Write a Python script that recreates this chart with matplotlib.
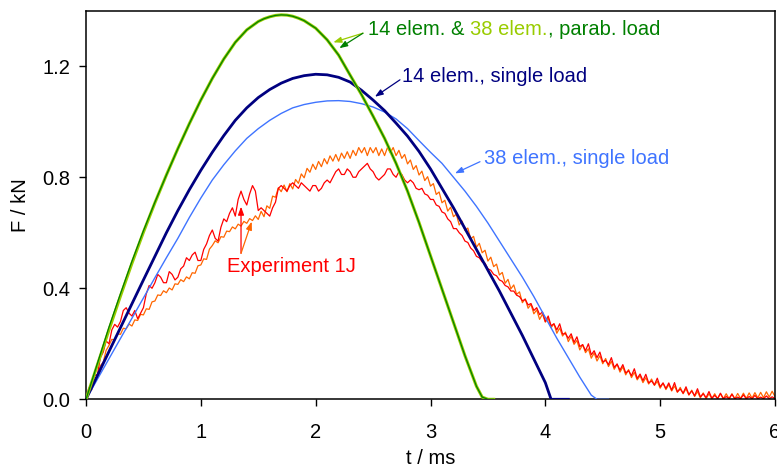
import numpy as np
import matplotlib
matplotlib.use("Agg")
import matplotlib.pyplot as plt

plt.rcParams['font.family'] = ['Liberation Sans', 'DejaVu Sans']

# ---------------- data ----------------
# simulations: parabolic load (14 and 38 elements)
t_par = [0.0, 0.1, 0.2, 0.3, 0.4, 0.5, 0.6, 0.7, 0.8, 0.9, 1.0, 1.1, 1.2, 1.3, 1.4,
         1.5, 1.55, 1.6, 1.65, 1.7, 1.75, 1.8, 1.85, 1.9, 2.0, 2.1, 2.2, 2.3, 2.4,
         2.5, 2.6, 2.7, 2.8, 2.9, 3.0, 3.1, 3.2, 3.3, 3.4, 3.45, 3.5, 3.55]
F_par38 = [0.0, 0.125, 0.25, 0.372, 0.49, 0.602, 0.708, 0.808, 0.903, 0.993, 1.078,
           1.156, 1.226, 1.286, 1.331, 1.361, 1.371, 1.378, 1.383, 1.385, 1.384, 1.380,
           1.373, 1.364, 1.337, 1.295, 1.24, 1.168, 1.097, 1.02, 0.94, 0.85, 0.75,
           0.637, 0.517, 0.397, 0.277, 0.157, 0.047, 0.008, 0.0, 0.0]
F_par14 = [0.0, 0.13, 0.26, 0.38, 0.497, 0.607, 0.710, 0.808, 0.903, 0.993, 1.078,
           1.156, 1.226, 1.286, 1.331, 1.361, 1.371, 1.378, 1.383, 1.385, 1.384, 1.380,
           1.373, 1.364, 1.337, 1.295, 1.24, 1.168, 1.097, 1.02, 0.94, 0.85, 0.75,
           0.637, 0.517, 0.397, 0.277, 0.157, 0.047, 0.008, 0.0, 0.0]

# simulation: 14 elements, single load
t_s14 = [0.0, 0.1, 0.2, 0.3, 0.4, 0.5, 0.6, 0.7, 0.8, 0.9, 1.0, 1.1, 1.2, 1.3, 1.4,
         1.5, 1.6, 1.7, 1.8, 1.9, 2.0, 2.1, 2.2, 2.3, 2.4, 2.5, 2.6, 2.7, 2.8, 2.9,
         3.0, 3.1, 3.2, 3.3, 3.4, 3.5, 3.6, 3.7, 3.8, 3.9, 4.0, 4.05, 4.2]
F_s14 = [0.0, 0.086, 0.172, 0.258, 0.344, 0.43, 0.515, 0.60, 0.68, 0.755, 0.825, 0.89,
         0.95, 1.005, 1.05, 1.087, 1.116, 1.139, 1.156, 1.166, 1.171, 1.169, 1.16, 1.143,
         1.113, 1.078, 1.04, 0.995, 0.948, 0.893, 0.83, 0.76, 0.69, 0.615, 0.54, 0.465,
         0.39, 0.31, 0.23, 0.145, 0.06, 0.0, 0.0]

# simulation: 38 elements, single load
t_s38 = [0.0, 0.1, 0.2, 0.3, 0.4, 0.5, 0.6, 0.7, 0.8, 0.9, 1.0, 1.1, 1.2, 1.3, 1.4,
         1.5, 1.6, 1.7, 1.8, 1.9, 2.0, 2.1, 2.2, 2.3, 2.4, 2.5, 2.6, 2.7, 2.8, 2.9,
         3.0, 3.1, 3.2, 3.3, 3.4, 3.5, 3.6, 3.7, 3.8, 3.9, 4.0, 4.1, 4.2, 4.3, 4.4,
         4.45, 4.55]
F_s38 = [0.0, 0.073, 0.146, 0.219, 0.292, 0.365, 0.438, 0.51, 0.58, 0.655, 0.725, 0.79,
         0.845, 0.895, 0.94, 0.975, 1.005, 1.03, 1.05, 1.062, 1.07, 1.075, 1.076, 1.073,
         1.065, 1.053, 1.035, 1.01, 0.975, 0.932, 0.89, 0.85, 0.80, 0.75, 0.695, 0.635,
         0.57, 0.505, 0.44, 0.37, 0.295, 0.22, 0.15, 0.08, 0.015, 0.0, 0.0]

# experiment 1J (two measured traces), sampled every 0.025 ms (8 samples per row)
F_exp_orange = [
    0.000, 0.026, 0.034, 0.071, 0.084, 0.121, 0.134, 0.176,
    0.194, 0.216, 0.214, 0.236, 0.234, 0.256, 0.254, 0.271,
    0.264, 0.286, 0.284, 0.306, 0.304, 0.326, 0.324, 0.351,
    0.354, 0.376, 0.374, 0.391, 0.384, 0.401, 0.394, 0.416,
    0.414, 0.431, 0.424, 0.441, 0.434, 0.456, 0.454, 0.481,
    0.484, 0.506, 0.504, 0.541, 0.554, 0.571, 0.564, 0.586,
    0.584, 0.606, 0.604, 0.621, 0.614, 0.631, 0.624, 0.641,
    0.634, 0.651, 0.644, 0.661, 0.648, 0.677, 0.658, 0.697,
    0.688, 0.732, 0.728, 0.762, 0.748, 0.772, 0.748, 0.777,
    0.758, 0.792, 0.778, 0.812, 0.798, 0.832, 0.818, 0.847,
    0.828, 0.857, 0.838, 0.867, 0.848, 0.877, 0.858, 0.882,
    0.858, 0.887, 0.868, 0.892, 0.868, 0.897, 0.878, 0.907,
    0.888, 0.907, 0.878, 0.907, 0.888, 0.907, 0.878, 0.902,
    0.878, 0.907, 0.888, 0.907, 0.878, 0.897, 0.868, 0.882,
    0.848, 0.862, 0.828, 0.842, 0.808, 0.822, 0.788, 0.802,
    0.768, 0.777, 0.738, 0.747, 0.708, 0.717, 0.678, 0.692,
    0.658, 0.667, 0.628, 0.642, 0.608, 0.617, 0.578, 0.587,
    0.548, 0.562, 0.528, 0.537, 0.498, 0.512, 0.478, 0.487,
    0.448, 0.457, 0.418, 0.432, 0.398, 0.412, 0.378, 0.387,
    0.348, 0.362, 0.328, 0.342, 0.308, 0.322, 0.288, 0.307,
    0.278, 0.292, 0.258, 0.272, 0.238, 0.257, 0.228, 0.242,
    0.208, 0.227, 0.198, 0.212, 0.178, 0.197, 0.168, 0.182,
    0.148, 0.167, 0.138, 0.157, 0.128, 0.147, 0.118, 0.137,
    0.108, 0.127, 0.098, 0.117, 0.088, 0.107, 0.078, 0.097,
    0.070, 0.085, 0.060, 0.078, 0.055, 0.073, 0.050, 0.065,
    0.040, 0.058, 0.035, 0.053, 0.030, 0.048, 0.025, 0.043,
    0.020, 0.038, 0.015, 0.033, 0.010, 0.028, 0.005, 0.023,
    0.002, 0.020, 0.002, 0.020, 0.002, 0.020, 0.002, 0.020,
    0.002, 0.020, 0.002, 0.021, 0.003, 0.022, 0.003, 0.023,
    0.004, 0.024, 0.005, 0.025, 0.006, 0.027, 0.008, 0.029,
    0.010]
F_exp_red = [
    0.00, 0.04, 0.055, 0.085, 0.09, 0.15, 0.17, 0.21,
    0.20, 0.25, 0.27, 0.26, 0.28, 0.32, 0.33, 0.31,
    0.30, 0.32, 0.29, 0.31, 0.33, 0.38, 0.41, 0.40,
    0.42, 0.45, 0.44, 0.42, 0.42, 0.46, 0.45, 0.43,
    0.44, 0.47, 0.48, 0.51, 0.50, 0.52, 0.53, 0.50,
    0.50, 0.54, 0.56, 0.59, 0.61, 0.58, 0.57, 0.62,
    0.65, 0.64, 0.67, 0.69, 0.66, 0.72, 0.75, 0.72,
    0.70, 0.74, 0.77, 0.75, 0.68, 0.69, 0.68, 0.67,
    0.66, 0.69, 0.71, 0.76, 0.77, 0.76, 0.75, 0.77,
    0.78, 0.77, 0.76, 0.78, 0.77, 0.76, 0.75, 0.77,
    0.77, 0.75, 0.76, 0.78, 0.79, 0.78, 0.80, 0.82,
    0.83, 0.81, 0.81, 0.83, 0.82, 0.80, 0.80, 0.82,
    0.83, 0.84, 0.85, 0.83, 0.82, 0.80, 0.79, 0.80,
    0.81, 0.83, 0.83, 0.81, 0.80, 0.82, 0.81, 0.79,
    0.78, 0.79, 0.78, 0.76, 0.755, 0.76, 0.74, 0.735,
    0.72, 0.72, 0.70, 0.695, 0.675, 0.67, 0.65, 0.64,
    0.615, 0.615, 0.60, 0.59, 0.57, 0.565, 0.545, 0.535,
    0.515, 0.51, 0.495, 0.49, 0.47, 0.465, 0.45, 0.445,
    0.43, 0.425, 0.41, 0.405, 0.39, 0.39, 0.375, 0.37,
    0.355, 0.36, 0.34, 0.345, 0.32, 0.33, 0.305, 0.315,
    0.28, 0.30, 0.265, 0.272, 0.25, 0.272, 0.235, 0.237,
    0.22, 0.236, 0.205, 0.225, 0.19, 0.197, 0.175, 0.20,
    0.16, 0.175, 0.15, 0.17, 0.135, 0.14, 0.125, 0.15,
    0.115, 0.127, 0.105, 0.125, 0.095, 0.103, 0.085, 0.11,
    0.075, 0.091, 0.067, 0.09, 0.059, 0.066, 0.052, 0.076,
    0.045, 0.059, 0.039, 0.059, 0.033, 0.06, 0.027, 0.037,
    0.022, 0.045, 0.017, 0.03, 0.013, 0.038, 0.009, 0.02,
    0.006, 0.028, 0.004, 0.014, 0.003, 0.022, 0.002, 0.01,
    0.002, 0.018, 0.002, 0.008, 0.002, 0.016, 0.002, 0.01,
    0.002, 0.014, 0.002, 0.008, 0.002, 0.012, 0.002, 0.009,
    0.003]
t_exp = np.linspace(0.0, 6.0, 241)
assert len(F_exp_red) == 241 and len(F_exp_orange) == 241

x_ticks = [0, 1, 2, 3, 4, 5, 6]
y_ticks = [0.0, 0.4, 0.8, 1.2]
y_tick_labels = ["0.0", "0.4", "0.8", "1.2"]

# ---------------- colours ----------------
C_DKGREEN = '#008000'
C_LTGREEN = '#99CC00'
C_NAVY = '#000080'
C_BLUE = '#3F74FF'
C_RED = '#FF0000'
C_ORANGE = '#FF6600'

FS = 14.5

fig = plt.figure(figsize=(7.77, 4.69), dpi=100)
W, H = 777.0, 469.0
ax = fig.add_axes([86 / W, (H - 399.3) / H, (775 - 86) / W, (399.3 - 10.7) / H])

# experiments
ax.plot(t_exp, F_exp_orange, color=C_ORANGE, lw=0.9, zorder=2)
ax.plot(t_exp, F_exp_red, color=C_RED, lw=0.9, zorder=2.1)
# simulations
ax.plot(t_s38, F_s38, color=C_BLUE, lw=1.0, zorder=3)
ax.plot(t_s14, F_s14, color=C_NAVY, lw=2.0, zorder=3.1)
ax.plot(t_par, F_par38, color=C_LTGREEN, lw=2.2, zorder=3.2)
ax.plot(t_par, F_par14, color=C_DKGREEN, lw=0.9, zorder=3.3)

ax.set_xlim(0, 6)
ax.set_ylim(0, 1.4)
ax.set_xticks(x_ticks)
ax.set_yticks(y_ticks)
ax.set_yticklabels(y_tick_labels)
ax.tick_params(axis='both', direction='out', length=4.8, width=1.0,
               labelsize=FS, colors='black')
ax.tick_params(axis='x', pad=12.5)
ax.tick_params(axis='y', pad=6.5)
for sp in ax.spines.values():
    sp.set_linewidth(1.1)
    sp.set_color('black')

ax.set_xlabel("t / ms", fontsize=FS)
ax.set_ylabel("F / kN", fontsize=FS)
ax.xaxis.set_label_coords(0.5, (399.3 - 458) / 388.6)
ax.xaxis.label.set_va('center')
ax.yaxis.set_label_coords((21 - 86) / 689.0, (399.3 - 205) / 388.6)
ax.yaxis.label.set_va('center')
ax.yaxis.label.set_ha('center')

def arrow(xy_from, xy_to, color):
    ax.annotate("", xy=xy_to, xytext=xy_from,
                arrowprops=dict(arrowstyle='-|>,head_length=0.6,head_width=0.22',
                                color=color, lw=0.9, mutation_scale=8,
                                shrinkA=0, shrinkB=0), zorder=5)

# parabolic load label (multi-coloured)
t1 = ax.text(2.455, 1.313, "14 elem. & ", color=C_DKGREEN, fontsize=FS,
             ha='left', va='baseline', zorder=6)
t2 = ax.annotate("38 elem.", xy=(1, 0), xycoords=t1, color=C_LTGREEN,
                 fontsize=FS, ha='left', va='bottom', zorder=6)
t3 = ax.annotate(", parab. load", xy=(1, 0), xycoords=t2, color=C_DKGREEN,
                 fontsize=FS, ha='left', va='bottom', zorder=6)
arrow((2.412, 1.319), (2.154, 1.286), C_LTGREEN)
arrow((2.412, 1.319), (2.206, 1.265), C_DKGREEN)

ax.text(2.749, 1.1445, "14 elem., single load", color=C_NAVY, fontsize=FS,
        ha='left', va='baseline', zorder=6)
arrow((2.734, 1.151), (2.516, 1.090), C_NAVY)

ax.text(3.466, 0.848, "38 elem., single load", color=C_BLUE, fontsize=FS,
        ha='left', va='baseline', zorder=6)
arrow((3.431, 0.856), (3.213, 0.814), C_BLUE)

ax.text(1.225, 0.46, "Experiment 1J", color=C_RED, fontsize=FS,
        ha='left', va='baseline', zorder=6)
arrow((1.35, 0.526), (1.35, 0.694), C_RED)
arrow((1.35, 0.526), (1.443, 0.640), C_ORANGE)

fig.savefig("out.png", dpi=100)
